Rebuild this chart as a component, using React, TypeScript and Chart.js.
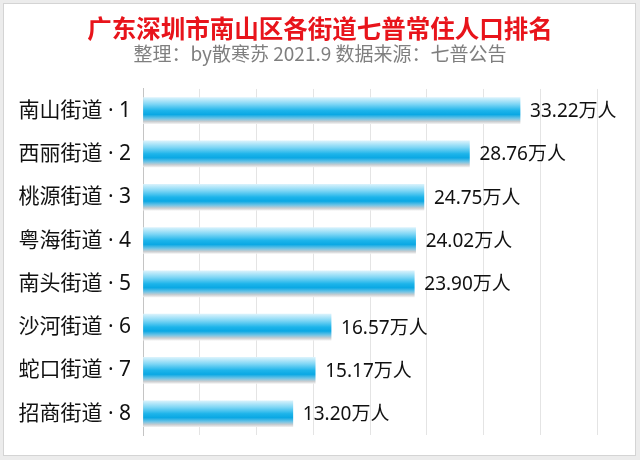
import React, { useEffect, useRef } from "react";
import { Chart, registerables } from "chart.js";

Chart.register(...registerables);

const titleText = "广东深圳市南山区各街道七普常住人口排名";
const subtitleText = "整理：by散寒苏 2021.9 数据来源：七普公告";
const categories = [
  "南山街道 · 1",
  "西丽街道 · 2",
  "桃源街道 · 3",
  "粤海街道 · 4",
  "南头街道 · 5",
  "沙河街道 · 6",
  "蛇口街道 · 7",
  "招商街道 · 8",
];
const population = [33.22, 28.76, 24.75, 24.02, 23.9, 16.57, 15.17, 13.2];
const unit = "万人";

const CJK = "'Noto Sans CJK SC', 'Noto Sans', sans-serif";
const MIXED = "'Noto Sans', 'Noto Sans CJK SC', sans-serif";
const BAR_T = 26;

const framePlugin = {
  id: "frame",
  afterLayout(chart: any) {
    // center the title/subtitle blocks on the whole canvas
    chart.boxes.forEach((b: any) => {
      if (b.position === "top" && b.fullSize && (b.options?.text !== undefined)) {
        b.left = 0;
        b.right = chart.width;
        b.width = chart.width;
      }
    });
  },
  beforeDraw(chart: any) {
    const { ctx, width, height } = chart;
    ctx.save();
    ctx.fillStyle = "#ececec";
    ctx.fillRect(0, 0, width, height);
    ctx.fillStyle = "#ffffff";
    ctx.fillRect(3, 3, width - 7, height - 7);
    ctx.strokeStyle = "#d4d4d4";
    ctx.lineWidth = 1;
    ctx.strokeRect(3.5, 3.5, width - 8, height - 8);
    ctx.restore();
  },
};

const valueLabelPlugin = {
  id: "valueLabels",
  afterDatasetsDraw(chart: any) {
    const { ctx } = chart;
    const meta = chart.getDatasetMeta(0);
    ctx.save();
    ctx.font = `19px ${MIXED}`;
    ctx.fillStyle = "#111111";
    ctx.textAlign = "left";
    ctx.textBaseline = "middle";
    meta.data.forEach((el: any, i: number) => {
      ctx.fillText(population[i].toFixed(2) + unit, el.x + 10, el.y + 1);
    });
    ctx.restore();
  },
};

export default function App() {
  const ref = useRef<HTMLCanvasElement>(null);
  useEffect(() => {
    if (!ref.current) return;
    const chart = new Chart(ref.current, {
      type: "bar",
      data: {
        labels: categories,
        datasets: [
          {
            data: population,
            barThickness: BAR_T,
            borderWidth: 0,
            backgroundColor: (c: any) => {
              const ch = c.chart;
              const ys = ch.scales && ch.scales.y;
              if (!ys || c.dataIndex === undefined) return "#10aee6";
              const yc = ys.getPixelForValue(c.dataIndex);
              if (!isFinite(yc)) return "#10aee6";
              const g = ch.ctx.createLinearGradient(0, yc - BAR_T / 2, 0, yc + BAR_T / 2);
              g.addColorStop(0, "#d8f2fc");
              g.addColorStop(0.25, "#7fd6f5");
              g.addColorStop(0.5, "#1db4ea");
              g.addColorStop(0.65, "#0aa8e4");
              g.addColorStop(0.8, "#6cc3e6");
              g.addColorStop(0.92, "#c9cdd0");
              g.addColorStop(1, "#eeeeee");
              return g;
            },
          },
        ],
      },
      options: {
        indexAxis: "y",
        animation: false,
        responsive: false,
        events: [],
        layout: { padding: { left: 12, right: 43, top: 0, bottom: 21 } },
        plugins: {
          legend: { display: false },
          tooltip: { enabled: false },
          title: {
            display: true,
            text: titleText,
            color: "#e8141b",
            font: { family: CJK, size: 24.5, weight: "bold", lineHeight: 1.1 },
            padding: { top: 15, bottom: 0 },
          },
          subtitle: {
            display: true,
            text: subtitleText,
            color: "#7f7f7f",
            font: { family: CJK, size: 19, lineHeight: 1.2 },
            padding: { top: 0, bottom: 24.2 },
          },
        },
        scales: {
          x: {
            min: 0,
            max: 40,
            ticks: { display: false, stepSize: 5 },
            grid: { color: "#e4e4e4", drawTicks: false },
            border: { display: false },
          },
          y: {
            ticks: {
              color: "#111111",
              font: { family: MIXED, size: 21 },
              padding: 12,
            },
            grid: { display: false, drawTicks: false },
            border: { display: true, color: "#c4c4c4" },
            afterFit(scale: any) {
              scale.width = 131;
            },
          },
        },
      },
      plugins: [framePlugin, valueLabelPlugin],
    } as any);
    return () => chart.destroy();
  }, []);
  return (
    <div style={{ position: "fixed", left: 0, top: 0, width: 640, height: 460 }}>
      <canvas ref={ref} width={640} height={460} style={{ display: "block" }} />
    </div>
  );
}
